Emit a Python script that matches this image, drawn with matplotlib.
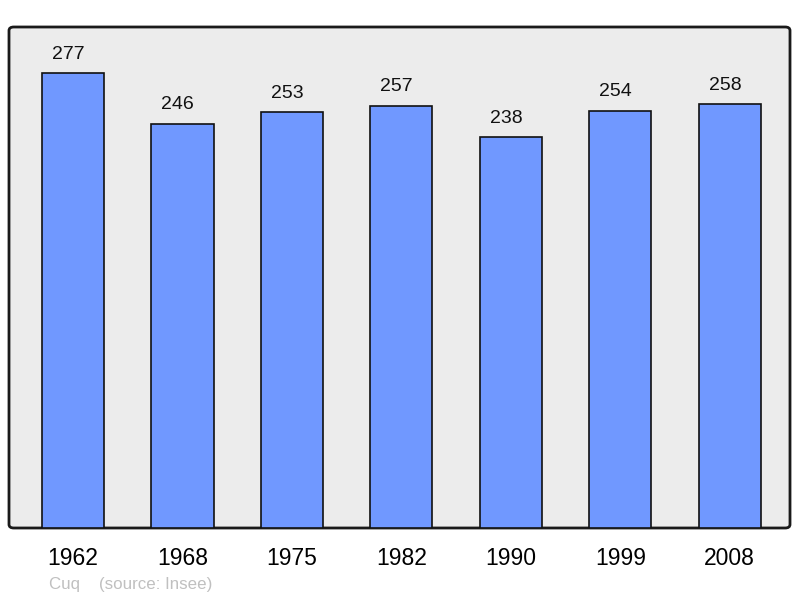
import matplotlib
matplotlib.use("Agg")
import matplotlib.pyplot as plt
from matplotlib.patches import FancyBboxPatch

years = ["1962", "1968", "1975", "1982", "1990", "1999", "2008"]
population = [277, 246, 253, 257, 238, 254, 258]

plt.rcParams['font.family'] = ['Liberation Sans', 'DejaVu Sans']

fig = plt.figure(figsize=(8, 5.98), dpi=100)
ax = fig.add_axes([9/800, 70/598, 781/800, 501/598])
ax.set_facecolor('none')
ax.set_zorder(2)
for s in ax.spines.values():
    s.set_visible(False)

frame = FancyBboxPatch((9/800, 70/598), 781/800, 501/598,
                       boxstyle="round,pad=0,rounding_size=0.006",
                       transform=fig.transFigure, facecolor='#ececec',
                       edgecolor='#1a1a1a', linewidth=2, zorder=-1)
fig.patches.append(frame)

x = list(range(len(years)))
ax.bar(x, population, width=0.567, color='#7098ff', edgecolor='#111111',
       linewidth=1.2, zorder=2)
for xi, v in zip(x, population):
    ax.annotate(str(v), (xi, v), xytext=(-3.5, 7.5), textcoords='offset points',
                ha='center', va='bottom', fontsize=14, color='#111111')

ax.set_xlim(-0.585, 6.55)
ax.set_ylim(0, 305)
ax.set_yticks([])
ax.set_xticks(x)
ax.set_xticklabels(years, fontsize=16.5)
ax.tick_params(axis='x', length=0, pad=14)

fig.text(49/800, 1 - 584/598, "Cuq    (source: Insee)", fontsize=12.2,
         color='#c0c0c0', ha='left', va='center')

fig.savefig("out.png", dpi=100)
